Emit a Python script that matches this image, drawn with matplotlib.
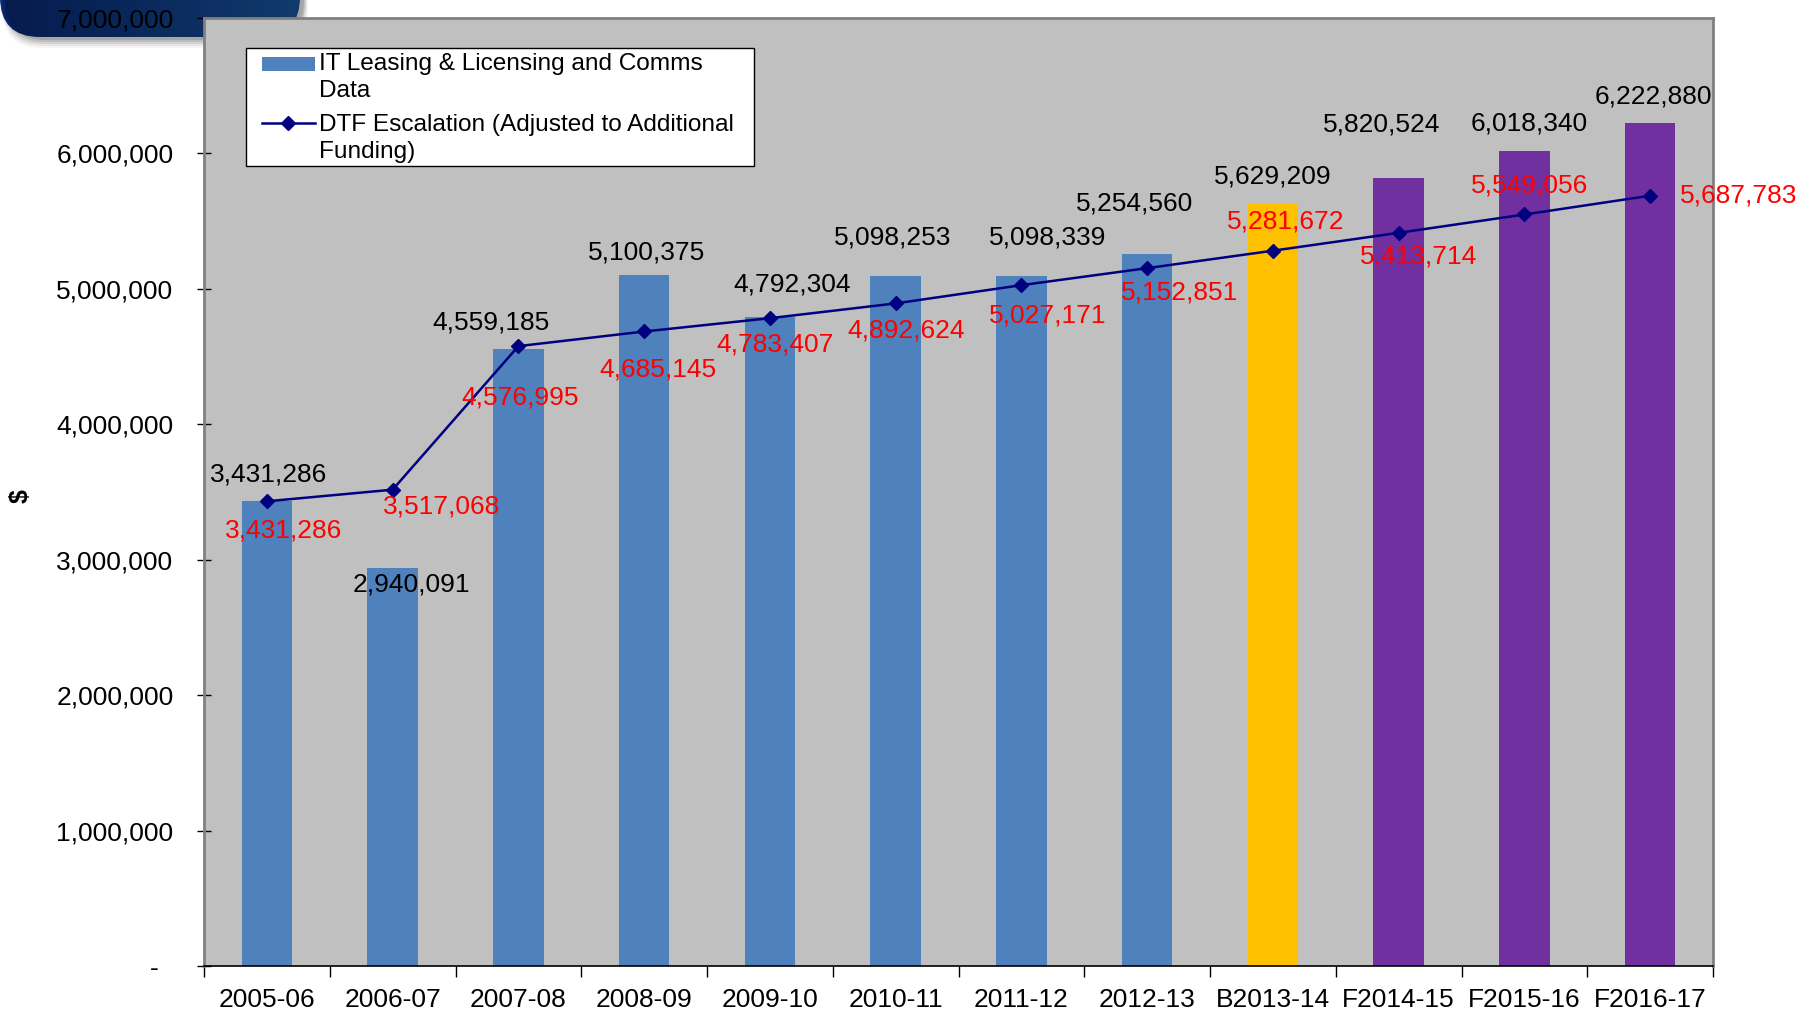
import numpy as np
import matplotlib
matplotlib.use("Agg")
import matplotlib.pyplot as plt
from matplotlib.patches import FancyBboxPatch, Patch, Rectangle
from matplotlib.lines import Line2D
from matplotlib.ticker import FuncFormatter
from matplotlib.colors import LinearSegmentedColormap

plt.rcParams['font.family'] = ['Liberation Sans', 'DejaVu Sans']

years = ['2005-06', '2006-07', '2007-08', '2008-09', '2009-10', '2010-11',
         '2011-12', '2012-13', 'B2013-14', 'F2014-15', 'F2015-16', 'F2016-17']
it_costs = [3431286, 2940091, 4559185, 5100375, 4792304, 5098253,
            5098339, 5254560, 5629209, 5820524, 6018340, 6222880]
dtf_escalation = [3431286, 3517068, 4576995, 4685145, 4783407, 4892624,
                  5027171, 5152851, 5281672, 5413714, 5549056, 5687783]
bar_kinds = ['actual'] * 8 + ['budget'] + ['forecast'] * 3

kind_colors = {'actual': '#4F81BD', 'budget': '#FFC000', 'forecast': '#7030A0'}

# label offsets in pixels (dx, dy, screen-down positive)
bar_label_off = [(2, -27), (19, 17), (-27, -26), (2, -23), (22, -32), (-3, -38),
                 (26, -38), (-13, -51), (0, -27), (-17, -53), (5, -27), (3, -27)]
line_label_off = [(17, 29), (49, 17), (2, 51), (14, 38), (5, 26), (10, 27),
                  (26, 30), (32, 24), (13, -29), (20, 24), (5, -29), (89, 0)]

FS = 19
W, H = 1818, 1010
fig = plt.figure(figsize=(W / 100, H / 100), dpi=100)

# slide decoration in top-left corner
bg = fig.add_axes([0, 0, 1, 1], zorder=-5)
bg.axis('off')
for i, a in enumerate([0.04, 0.06, 0.08, 0.10, 0.12]):
    sh = FancyBboxPatch((2 + i, -60), 306 - 2 * i, 108 - 2 * i,
                        boxstyle="round,pad=0,rounding_size=40",
                        fc='black', ec='none', alpha=a)
    bg.add_patch(sh)
shape = FancyBboxPatch((0, -60), 300, 97, boxstyle="round,pad=0,rounding_size=40",
                       fc='none', ec='none')
bg.add_patch(shape)
grad = np.linspace(0, 1, 256).reshape(1, -1)
cmap = LinearSegmentedColormap.from_list('slide', ['#0B2A78', '#12428F', '#1E5BA8'])
im = bg.imshow(grad, cmap=cmap, extent=(0, 300, 37, -60), aspect='auto')
im.set_clip_path(shape)
bg.set_xlim(0, W)
bg.set_ylim(H, 0)

ax = fig.add_axes([204 / W, 1 - 966 / H, 1509 / W, 948 / H])
ax.set_facecolor('#C0C0C0')

x = np.arange(len(years))
colors = [kind_colors[k] for k in bar_kinds]
ax.bar(x, it_costs, width=0.4, color=colors, zorder=2)
ax.plot(x, dtf_escalation, color='#000080', lw=1.8, marker='D', ms=7, zorder=3)

for i in range(len(years)):
    dx, dy = bar_label_off[i]
    ax.annotate(f"{it_costs[i]:,}", (x[i], it_costs[i]), xytext=(dx, -dy),
                textcoords='offset pixels', ha='center', va='center',
                fontsize=FS, color='black', zorder=4, annotation_clip=False)
    dx, dy = line_label_off[i]
    ax.annotate(f"{dtf_escalation[i]:,}", (x[i], dtf_escalation[i]), xytext=(dx, -dy),
                textcoords='offset pixels', ha='center', va='center',
                fontsize=FS, color='#FF0000', zorder=5, annotation_clip=False)

ax.set_xlim(-0.5, len(years) - 0.5)
ax.set_ylim(0, 7000000)
ax.set_yticks(np.arange(0, 7000001, 1000000))
ax.yaxis.set_major_formatter(FuncFormatter(lambda v, p: "-  " if v == 0 else f"{int(v):,}"))
ax.set_xticks(x)
ax.set_xticklabels(years)
ax.set_xticks(np.arange(-0.5, len(years)), minor=True)
ax.tick_params(axis='x', which='major', length=0, pad=16, labelsize=FS)
ax.tick_params(axis='x', which='minor', length=8, direction='out', width=1, color='black')
ax.tick_params(axis='y', which='major', length=10, direction='inout', width=1,
               color='black', pad=17, labelsize=FS)

for s in ['top', 'right', 'left']:
    ax.spines[s].set_color('#808080')
    ax.spines[s].set_linewidth(2)
ax.spines['bottom'].set_color('black')
ax.spines['bottom'].set_linewidth(1.2)

fig.text(21 / W, 1 - 496 / H, '$', rotation=90, fontsize=18, fontweight='bold',
         ha='center', va='center')

# legend: frame drawn separately to match the padding of the original
frame = Rectangle((246 / W, 1 - 166 / H), 508 / W, 118 / H, transform=fig.transFigure,
                  fc='white', ec='black', lw=1, zorder=6, clip_on=False)
ax.add_patch(frame)
handles = [Patch(facecolor='#4F81BD', edgecolor='none'),
           Line2D([], [], color='#000080', lw=1.8, marker='D', ms=7)]
labels = ['IT Leasing & Licensing and Comms\nData',
          'DTF Escalation (Adjusted to Additional\nFunding)']
leg = ax.legend(handles, labels, loc='upper left', bbox_to_anchor=(262 / W, 1 - 53 / H),
                bbox_transform=fig.transFigure, fontsize=17.6, frameon=False,
                handlelength=2.15, handleheight=0.5, handletextpad=0.2,
                borderpad=0, labelspacing=0.5, borderaxespad=0)
leg.set_zorder(7)
for t in leg.get_texts():
    t.set_linespacing(1.28)

# put the legend keys next to the first line of each label, as in the original
lh = leg.legend_handles
lh[0].set_y(lh[0].get_y() + 9.5)
lh[1].set_ydata(np.asarray(lh[1].get_ydata()) + 11.5)

fig.savefig('out.png', dpi=100)
